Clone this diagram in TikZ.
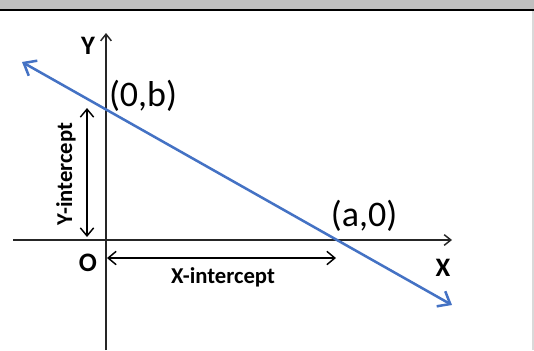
\documentclass[tikz,border=0pt]{standalone}
\usepackage{fontspec}
\setmainfont{Carlito}
\usetikzlibrary{arrows.meta}

\begin{document}
\begin{tikzpicture}[x=0.75pt, y=-0.75pt, >={Straight Barb[length=5pt,width=8pt]}, line width=1.1pt]
        \definecolor{lineblue}{RGB}{68,114,196}
        \colorlet{axisgray}{black!85}
        \tikzset{
          axislabel/.style={font=\bfseries\fontsize{20}{24}\selectfont},
          pointlabel/.style={font=\fontsize{27}{32}\selectfont},
          spanlabel/.style={font=\bfseries\fontsize{17}{20}\selectfont}
        }

        \useasboundingbox (0,0) rectangle (534,350);
        \fill[black!25] (0,0) rectangle (534,9);
        \draw[line width=1.5pt] (0,10) -- (534,10);
        \fill[black!15] (532,11) rectangle (534,350);

        % axes
        \coordinate (ybot) at (106,350);
        \coordinate (ytop) at (106,33);
        \coordinate (xleft) at (13,240);
        \coordinate (xright) at (452,240);
        \draw[->, axisgray] (ybot) -- (ytop);
        \draw[->, axisgray] (xleft) -- (xright);

        \node[axislabel] (ylab) at (88,46) {Y};
        \node[axislabel] (xlab) at (443,268) {X};
        \node[axislabel] (olab) at (88,263) {O};

        % the line
        \coordinate (lstart) at (22,62);
        \coordinate (lend) at (452,305);
        \draw[{Straight Barb[length=8pt,width=13pt]}-{Straight Barb[length=8pt,width=13pt]}, lineblue, line width=1.9pt] (lstart) -- (lend);

        \node[pointlabel] (bpt) at (143,96) {(0,b)};
        \node[pointlabel] (apt) at (364,216) {(a,0)};

        % intercepts
        \coordinate (yitop) at (87,108);
        \coordinate (yibot) at (87,237);
        \coordinate (xileft) at (107,258);
        \coordinate (xiright) at (336,258);
        \draw[{Straight Barb[length=6pt,width=10pt]}-{Straight Barb[length=6pt,width=10pt]}] (yitop) -- (yibot);
        \draw[{Straight Barb[length=6pt,width=10pt]}-{Straight Barb[length=6pt,width=10pt]}] (xileft) -- (xiright);

        \node[spanlabel, rotate=90] (yint) at (66,174) {Y-intercept};
        \node[spanlabel] (xint) at (223,277) {X-intercept};
    \end{tikzpicture}
\end{document}
